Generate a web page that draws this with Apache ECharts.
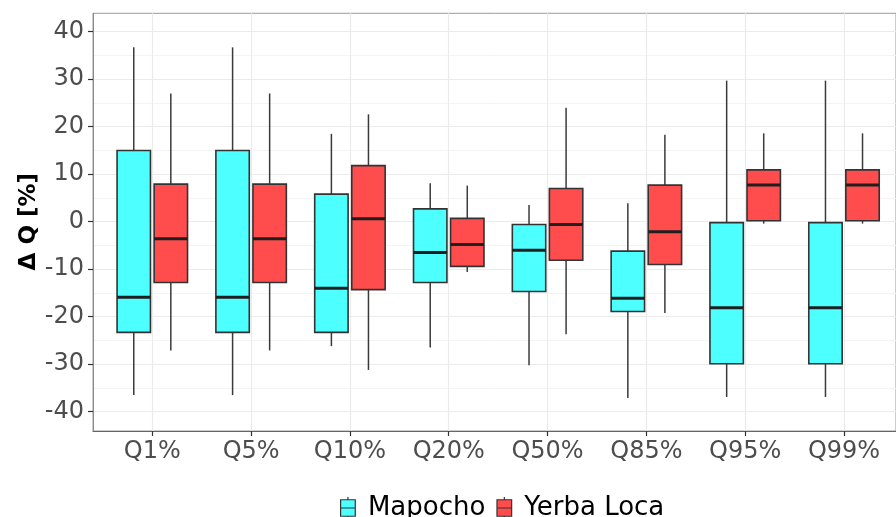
<!DOCTYPE html>
<html>
<head>
<meta charset="utf-8">
<script src="https://cdn.jsdelivr.net/npm/echarts@6/dist/echarts.min.js"></script>
<style>html,body{margin:0;padding:0;background:#fff}#c{width:896px;height:517px}</style>
</head>
<body>
<div id="c"></div>
<script>
const categories = ['Q1%','Q5%','Q10%','Q20%','Q50%','Q85%','Q95%','Q99%'];
const yTicks = [-40,-30,-20,-10,0,10,20,30,40];
const mapochoMin = [-36.5,-36.5,-26.2,-26.5,-30.2,-37.1,-36.9,-36.9];
const mapochoQ1  = [-23.3,-23.3,-23.3,-12.8,-14.7,-18.9,-29.9,-29.9];
const mapochoMed = [-15.9,-15.9,-14.0,-6.5,-6.0,-16.1,-18.1,-18.1];
const mapochoQ3  = [15.0,15.0,5.8,2.7,-0.6,-6.2,-0.2,-0.2];
const mapochoMax = [36.7,36.7,18.5,8.1,3.5,3.9,29.7,29.7];
const yerbaMin = [-27.1,-27.1,-31.2,-10.6,-23.7,-19.2,-0.4,-0.4];
const yerbaQ1  = [-12.8,-12.8,-14.3,-9.4,-8.1,-9.0,0.2,0.2];
const yerbaMed = [-3.6,-3.6,0.6,-4.8,-0.6,-2.1,7.7,7.7];
const yerbaQ3  = [7.9,7.9,11.8,0.7,7.0,7.7,10.9,10.9];
const yerbaMax = [27.0,27.0,22.6,7.6,24.0,18.3,18.6,18.6];

const FONT = 'DejaVu Sans';
const mapochoData = categories.map((c,i)=>[i, mapochoMin[i], mapochoQ1[i], mapochoMed[i], mapochoQ3[i], mapochoMax[i]]);
const yerbaData = categories.map((c,i)=>[i, yerbaMin[i], yerbaQ1[i], yerbaMed[i], yerbaQ3[i], yerbaMax[i]]);

function makeRender(offsetFrac, fill) {
  return function (params, api) {
    const x = api.value(0);
    const bw = api.size([1, 0])[0];
    const w = bw * 0.338;
    const pMax = api.coord([x, api.value(5)]);
    const pQ3 = api.coord([x, api.value(4)]);
    const pMed = api.coord([x, api.value(3)]);
    const pQ1 = api.coord([x, api.value(2)]);
    const pMin = api.coord([x, api.value(1)]);
    const cx = pMed[0] + offsetFrac * bw;
    const lineStyle = {stroke: '#3a3a3a', lineWidth: 1.5};
    return {
      type: 'group',
      children: [
        {type: 'line', shape: {x1: cx, y1: pMax[1], x2: cx, y2: pQ3[1]}, style: lineStyle},
        {type: 'line', shape: {x1: cx, y1: pQ1[1], x2: cx, y2: pMin[1]}, style: lineStyle},
        {type: 'rect', shape: {x: cx - w/2, y: pQ3[1], width: w, height: pQ1[1] - pQ3[1]},
          style: {fill: fill, stroke: '#333333', lineWidth: 1.6}},
        {type: 'line', shape: {x1: cx - w/2, y1: pMed[1], x2: cx + w/2, y2: pMed[1]},
          style: {stroke: '#1f1f1f', lineWidth: 3}}
      ]
    };
  };
}

const keyIcon = 'path://M0,3H16V21H0ZM0,12H16M8,0V3M8,21V24';

const chart = echarts.init(document.getElementById('c'), null, {renderer: 'canvas'});
chart.setOption({
  animation: false,
  backgroundColor: '#ffffff',
  grid: [
    {left: 93, right: -7, top: 31.7, bottom: 105.3, show: false},
    {left: 93, right: -7, top: 13.3, bottom: 86, show: true, borderColor: '#9a9a9a', borderWidth: 1, backgroundColor: 'transparent'},
    {left: 152.3, right: 52, top: 13.3, bottom: 86, show: false}
  ],
  xAxis: [
    {gridIndex: 0, type: 'value', min: 0, max: 1, show: false},
    {gridIndex: 1, type: 'value', min: 0, max: 1, axisLine: {show: true, onZero: false, lineStyle: {color: '#666', width: 1.2}},
      axisTick: {show: false}, axisLabel: {show: false}, splitLine: {show: false}},
    {gridIndex: 2, type: 'category', data: categories, boundaryGap: false, position: 'bottom',
      axisLine: {show: false, onZero: false},
      axisTick: {show: true, length: 5, lineStyle: {color: '#333', width: 1.2}},
      axisLabel: {show: true, fontFamily: FONT, fontSize: 24, color: '#4d4d4d', margin: 9},
      splitLine: {show: true, lineStyle: {color: '#ebebeb', width: 1.2}}}
  ],
  yAxis: [
    {gridIndex: 0, type: 'value', min: yTicks[0], max: yTicks[yTicks.length-1], interval: 10,
      name: 'Δ Q [%]', nameLocation: 'middle', nameGap: 52, nameMoveOverlap: false,
      nameTextStyle: {fontFamily: FONT, fontSize: 23, fontWeight: 'bold', color: '#000'},
      axisLine: {show: false, onZero: false},
      axisTick: {show: true, length: 5, lineStyle: {color: '#333', width: 1.2}},
      axisLabel: {show: true, fontFamily: FONT, fontSize: 24, color: '#4d4d4d', margin: 9},
      splitLine: {show: true, lineStyle: {color: '#ebebeb', width: 1.2}},
      minorTick: {show: false, splitNumber: 2},
      minorSplitLine: {show: true, lineStyle: {color: '#f4f4f4', width: 1}}},
    {gridIndex: 1, type: 'value', min: 0, max: 1, axisLine: {show: true, onZero: false, lineStyle: {color: '#8a8a8a', width: 1}},
      axisTick: {show: false}, axisLabel: {show: false}, splitLine: {show: false}},
    {gridIndex: 2, type: 'value', min: -44.06, max: 43.87, show: false}
  ],
  legend: {
    left: 335, top: 490, orient: 'horizontal',
    itemWidth: 16, itemHeight: 22, itemGap: 11,
    textStyle: {fontFamily: FONT, fontSize: 26, color: '#000', padding: [0, 0, 0, 7]},
    data: [
      {name: 'Mapocho', icon: keyIcon, itemStyle: {color: '#4dffff', borderColor: '#333', borderWidth: 1.2}},
      {name: 'Yerba Loca', icon: keyIcon, itemStyle: {color: '#ff4d4d', borderColor: '#333', borderWidth: 1.2}}
    ]
  },
  series: [
    {name: 'Mapocho', type: 'custom', xAxisIndex: 2, yAxisIndex: 2, clip: false,
      itemStyle: {color: '#4dffff'},
      encode: {x: 0, y: [1,2,3,4,5]},
      renderItem: makeRender(-0.1875, '#4dffff'), data: mapochoData, z: 5},
    {name: 'Yerba Loca', type: 'custom', xAxisIndex: 2, yAxisIndex: 2, clip: false,
      itemStyle: {color: '#ff4d4d'},
      encode: {x: 0, y: [1,2,3,4,5]},
      renderItem: makeRender(0.1875, '#ff4d4d'), data: yerbaData, z: 5}
  ]
});
</script>
</body>
</html>
